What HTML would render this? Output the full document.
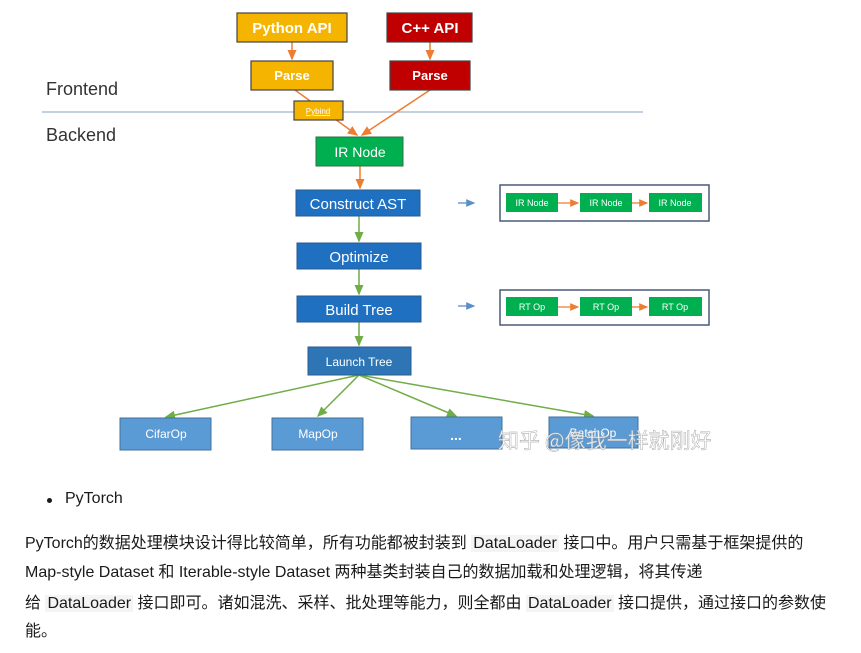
<!DOCTYPE html>
<html><head><meta charset="utf-8"><style>
body{margin:0;background:#fff;width:861px;height:653px;overflow:hidden;position:relative;font-family:"Liberation Sans","Noto Sans CJK SC",sans-serif;}
svg{position:absolute;left:0;top:0}
.t{position:absolute;left:25px;font-size:16px;color:#1a1a1a;white-space:nowrap}
code{background:#f4f4f4;font-family:inherit;padding:0 2px}
</style></head><body>
<svg width="861" height="480" viewBox="0 0 861 480" font-family="Liberation Sans, sans-serif">
<defs>
<marker id="o" markerWidth="8" markerHeight="8" refX="6" refY="4" orient="auto"><path d="M0,1 L7,4 L0,7z" fill="#ed7d31"/></marker>
<marker id="g" markerWidth="8" markerHeight="8" refX="6" refY="4" orient="auto"><path d="M0,1 L7,4 L0,7z" fill="#70ad47"/></marker>
<marker id="b" markerWidth="8" markerHeight="8" refX="6" refY="4" orient="auto"><path d="M0,1 L7,4 L0,7z" fill="#5b8fc7"/></marker>
</defs>
<line x1="42" y1="112" x2="643" y2="112" stroke="#9fb4cc" stroke-width="1.2"/>
<text x="46" y="95" font-size="18" fill="#333">Frontend</text>
<text x="46" y="141" font-size="18" fill="#333">Backend</text>
<g stroke="#ed7d31" stroke-width="1.5" fill="none">
<line x1="292" y1="42" x2="292" y2="59" marker-end="url(#o)"/>
<line x1="430" y1="42" x2="430" y2="59" marker-end="url(#o)"/>
<line x1="295" y1="90" x2="357" y2="135" marker-end="url(#o)"/>
<line x1="430" y1="90" x2="362" y2="135" marker-end="url(#o)"/>
<line x1="360" y1="166" x2="360" y2="188" marker-end="url(#o)"/>
</g>
<g stroke="#70ad47" stroke-width="1.5" fill="none">
<line x1="359" y1="216" x2="359" y2="241" marker-end="url(#g)"/>
<line x1="359" y1="269" x2="359" y2="294" marker-end="url(#g)"/>
<line x1="359" y1="322" x2="359" y2="345" marker-end="url(#g)"/>
<line x1="359" y1="375" x2="166" y2="417" marker-end="url(#g)"/>
<line x1="359" y1="375" x2="318" y2="416" marker-end="url(#g)"/>
<line x1="359" y1="375" x2="456" y2="416" marker-end="url(#g)"/>
<line x1="359" y1="375" x2="593" y2="416" marker-end="url(#g)"/>
</g>
<g stroke="#444" stroke-width="1.2">
<rect x="237" y="13" width="110" height="29" fill="#f5b400"/>
<rect x="387" y="13" width="85" height="29" fill="#c00000"/>
<rect x="251" y="61" width="82" height="29" fill="#f5b400"/>
<rect x="390" y="61" width="80" height="29" fill="#c00000"/>
<rect x="294" y="101" width="49" height="19" fill="#f5b400"/>
</g>
<rect x="316" y="137" width="87" height="29" fill="#00b050" stroke="#2f6f3f"/>
<g fill="#1f70c1" stroke="#2a5a8f">
<rect x="296" y="190" width="124" height="26"/>
<rect x="297" y="243" width="124" height="26"/>
<rect x="297" y="296" width="124" height="26"/>
<rect x="308" y="347" width="103" height="28" fill="#2e75b6"/>
</g>
<g fill="#5b9bd5" stroke="#41719c">
<rect x="120" y="418" width="91" height="32"/>
<rect x="272" y="418" width="91" height="32"/>
<rect x="411" y="417" width="91" height="32"/>
<rect x="549" y="417" width="89" height="31"/>
</g>
<g fill="#fff" font-weight="bold" text-anchor="middle">
<text x="292" y="33" font-size="15">Python API</text>
<text x="430" y="33" font-size="15">C++ API</text>
<text x="292" y="80" font-size="13">Parse</text>
<text x="430" y="80" font-size="13">Parse</text>
<text x="318" y="114" font-size="8" font-weight="normal" text-decoration="underline">Pybind</text>
</g>
<g fill="#fff" text-anchor="middle">
<text x="360" y="157" font-size="14">IR Node</text>
<text x="358" y="209" font-size="15">Construct AST</text>
<text x="359" y="262" font-size="15">Optimize</text>
<text x="359" y="315" font-size="15">Build Tree</text>
<text x="359" y="366" font-size="12">Launch Tree</text>
<text x="166" y="438" font-size="12">CifarOp</text>
<text x="318" y="438" font-size="12">MapOp</text>
<text x="456" y="440" font-size="14" font-weight="bold">...</text>
<text x="593" y="437" font-size="12">BatchOp</text>
</g>
<g stroke="#5b8fc7" stroke-width="1.3"><line x1="458" y1="203" x2="474" y2="203" marker-end="url(#b)"/><line x1="458" y1="306" x2="474" y2="306" marker-end="url(#b)"/></g>
<g fill="none" stroke="#4a5a7a" stroke-width="1.5"><rect x="500" y="185" width="209" height="36"/><rect x="500" y="290" width="209" height="35"/></g>
<g fill="#00b050"><rect x="506" y="193" width="52" height="19"/><rect x="580" y="193" width="52" height="19"/><rect x="649" y="193" width="53" height="19"/>
<rect x="506" y="297" width="52" height="19"/><rect x="580" y="297" width="52" height="19"/><rect x="649" y="297" width="53" height="19"/></g>
<g stroke="#ed7d31" stroke-width="1.3"><line x1="558" y1="203" x2="578" y2="203" marker-end="url(#o)"/><line x1="632" y1="203" x2="647" y2="203" marker-end="url(#o)"/>
<line x1="558" y1="307" x2="578" y2="307" marker-end="url(#o)"/><line x1="632" y1="307" x2="647" y2="307" marker-end="url(#o)"/></g>
<g fill="#fff" font-size="9" text-anchor="middle"><text x="532" y="206">IR Node</text><text x="606" y="206">IR Node</text><text x="675" y="206">IR Node</text>
<text x="532" y="310">RT Op</text><text x="606" y="310">RT Op</text><text x="675" y="310">RT Op</text></g>
<text x="498" y="448" font-size="21" fill="#fff" fill-opacity="0.85" stroke="#999" stroke-width="0.4" font-family="Noto Sans CJK SC, sans-serif">知乎 @像我一样就刚好</text>
</svg>
<div style="position:absolute;left:47px;top:498px;width:5px;height:5px;border-radius:50%;background:#1a1a1a"></div>
<div class="t" style="left:65px;top:490px">PyTorch</div>
<div class="t" style="top:529px">PyTorch的数据处理模块设计得比较简单，所有功能都被封装到 <code>DataLoader</code> 接口中。用户只需基于框架提供的</div>
<div class="t" style="top:558px">Map-style Dataset 和 Iterable-style Dataset 两种基类封装自己的数据加载和处理逻辑，将其传递</div>
<div class="t" style="top:589px">给 <code>DataLoader</code> 接口即可。诸如混洗、采样、批处理等能力，则全都由 <code>DataLoader</code> 接口提供，通过接口的参数使</div>
<div class="t" style="top:617px">能。</div>
</body></html>
